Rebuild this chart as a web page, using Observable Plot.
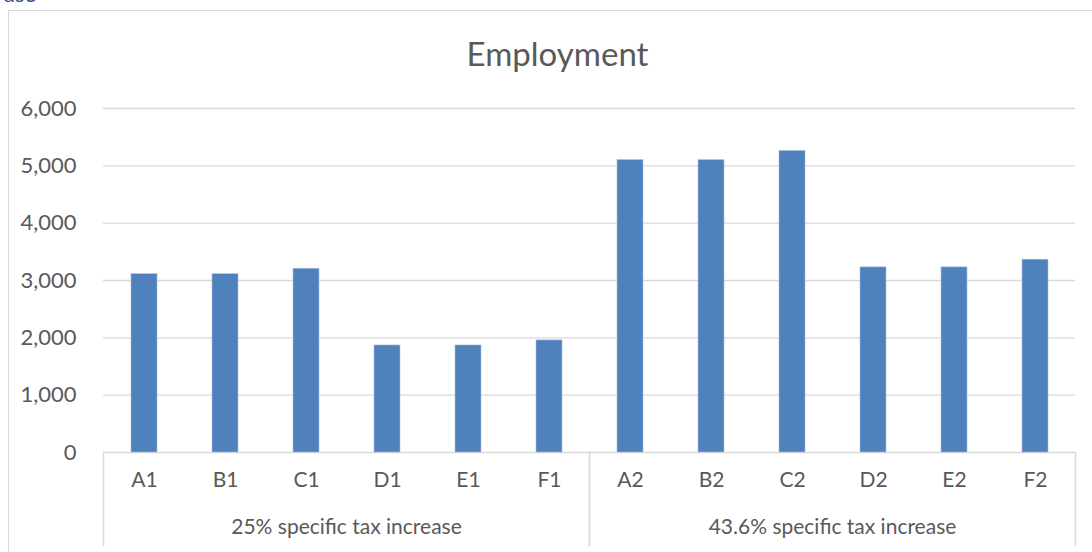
<!DOCTYPE html>
<html>
<head>
<meta charset="utf-8">
<script src="https://cdn.jsdelivr.net/npm/d3@7"></script>
<script src="https://cdn.jsdelivr.net/npm/@observablehq/plot@0.6"></script>
<style>
  html, body { margin: 0; padding: 0; background: #ffffff; }
  #wrap { position: relative; width: 1092px; height: 552px; overflow: hidden; font-family: Lato, "Open Sans", sans-serif; }
  #cut { position: absolute; left: 4px; top: -19px; font-size: 22px; line-height: 26px; color: #2f5597; font-family: Lato, sans-serif; }
  #box { position: absolute; left: 8px; top: 10px; width: 1200px; height: 700px; border: 1.5px solid #d9d9d9; box-sizing: border-box; }
  #title { position: absolute; left: 8px; width: 1099px; top: 33px; line-height: 40px; text-align: center; font-size: 33px; color: #595959; }
  #chart { position: absolute; left: 0; top: 0; }
</style>
</head>
<body>
<div id="wrap">
  <div id="cut">ase</div>
  <div id="box"></div>
  <div id="title">Employment</div>
  <div id="chart"></div>
</div>
<script>
// Data
const groups = ["25% specific tax increase", "43.6% specific tax increase"];
const scenarios = ["A", "B", "C", "D", "E", "F"];
const categoryLabels = ["A1", "B1", "C1", "D1", "E1", "F1", "A2", "B2", "C2", "D2", "E2", "F2"];
const employment25 = [3110, 3110, 3205, 1867, 1867, 1955];
const employment436 = [5100, 5100, 5260, 3229, 3229, 3363];
const yTicks = [0, 1000, 2000, 3000, 4000, 5000, 6000];

const seriesByGroup = [employment25, employment436];
const data = groups.flatMap((g, gi) =>
  scenarios.map((s, i) => ({
    group: g,
    scenario: s,
    label: categoryLabels[gi * scenarios.length + i],
    value: seriesByGroup[gi][i]
  }))
);

const gridColor = "#d9d9d9";

const chart = Plot.plot({
  width: 1092,
  height: 552,
  marginLeft: 102,
  marginRight: 17,
  marginTop: 108,
  marginBottom: 100,
  style: { fontFamily: "Lato, 'Open Sans', sans-serif", color: "#595959", background: "transparent", overflow: "visible" },
  fx: { domain: groups, padding: 0, axis: null },
  x: { domain: scenarios, paddingInner: 0.685, paddingOuter: 0.3425, axis: null },
  y: { domain: [0, 6000], axis: null },
  marks: [
    Plot.ruleY(yTicks, { stroke: gridColor, strokeWidth: 1.4 }),
    Plot.frame({ anchor: "left", insetTop: 344, insetBottom: -93, stroke: gridColor, strokeWidth: 1.5 }),
    Plot.frame({ anchor: "right", insetTop: 344, insetBottom: -93, stroke: gridColor, strokeWidth: 1.5 }),
    Plot.barY(data, { fx: "group", x: "scenario", y: "value", fill: "#4f81bd", stroke: "#a9c0e0", strokeWidth: 0.6 }),
    Plot.axisY({ ticks: yTicks, tickSize: 0, tickPadding: 27, tickFormat: d3.format(","), fontSize: 22, label: null }),
    Plot.text(data, { fx: "group", x: "scenario", text: "label", frameAnchor: "bottom", dy: 34, fontSize: 21 }),
    Plot.text(groups, { fx: d => d, text: d => d, frameAnchor: "bottom", dy: 81, fontSize: 21 })
  ]
});

document.getElementById("chart").appendChild(chart);
</script>
</body>
</html>
